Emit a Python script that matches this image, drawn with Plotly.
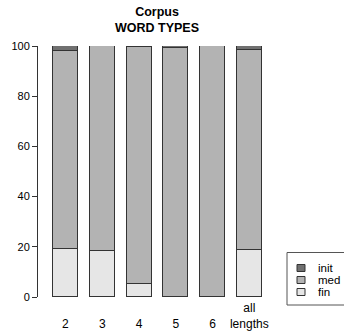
import plotly.graph_objects as go

categories = ["2", "3", "4", "5", "6", "all\nlengths"]
fin = [19.1, 18.4, 5.3, 0.0, 0.0, 18.8]
med = [78.9, 81.6, 94.2, 99.1, 100.0, 79.6]
init = [2.0, 0.0, 0.5, 0.9, 0.0, 1.6]
y_ticks = [0, 20, 40, 60, 80, 100]
series_names = ["init", "med", "fin"]
title_lines = ["Corpus", "WORD TYPES"]

W, H = 344, 336
L, R, T, B = 38, 80, 46, 39
PW, PH = W - L - R, H - T - B


def px(xp):
    return (xp - L) / PW


def py(yp):
    return (H - B - yp) / PH


x = list(range(len(categories)))
ticktext = ["<br>".join(c.split("\n")) if "\n" in c else "<br>" + c for c in categories]

colors = {"init": "#707070", "med": "#B3B3B3", "fin": "#E6E6E6"}
values = {"init": init, "med": med, "fin": fin}
edge = "#333333"

fig = go.Figure()
for name in ["fin", "med", "init"]:
    fig.add_trace(go.Bar(x=x, y=values[name], name=name, width=0.68, showlegend=False,
                         marker=dict(color=colors[name], line=dict(color=edge, width=1))))

shapes = [dict(type="rect", xref="paper", yref="paper", x0=px(287), x1=px(360),
               y0=py(305), y1=py(252.5), line=dict(color="#555555", width=1),
               fillcolor="white", layer="above")]
annotations = [dict(text="<b>" + "<br>".join(title_lines) + "</b>", xref="paper", yref="paper",
                    x=px(157), y=py(3), xanchor="center", yanchor="top", showarrow=False,
                    font=dict(size=12.5))]
for i, name in enumerate(series_names):
    cy = 268 + 12 * i
    shapes.append(dict(type="rect", xref="paper", yref="paper", x0=px(297), x1=px(305),
                       y0=py(cy + 3.5), y1=py(cy - 3.5), fillcolor=colors[name],
                       line=dict(color=edge, width=1), layer="above"))
    annotations.append(dict(text=name, xref="paper", yref="paper", x=px(315.5), y=py(cy),
                            xanchor="left", yanchor="middle", showarrow=False,
                            font=dict(size=11.5)))

fig.update_layout(
    barmode="stack",
    width=W, height=H,
    margin=dict(l=L, r=R, t=T, b=B, autoexpand=False),
    plot_bgcolor="white", paper_bgcolor="white",
    font=dict(family="Liberation Sans, Arial", size=12, color="#000"),
    showlegend=False,
    shapes=shapes,
    annotations=annotations,
    bargap=0,
)
fig.update_xaxes(range=[-0.747, 5.4], tickvals=x, ticktext=ticktext, showline=False,
                 ticks="", showgrid=False, zeroline=False, tickfont=dict(size=12, color="#000"),
                 ticklabelstandoff=2)
fig.update_yaxes(range=[0, 100], tickvals=y_ticks, showline=True, linecolor="#333",
                 ticks="outside", ticklen=5, tickcolor="#333", showgrid=False, zeroline=False,
                 tickfont=dict(size=11, color="#000"))
fig.write_html("out.html", config={"displayModeBar": False},
               post_script="document.body.style.margin='0';")
